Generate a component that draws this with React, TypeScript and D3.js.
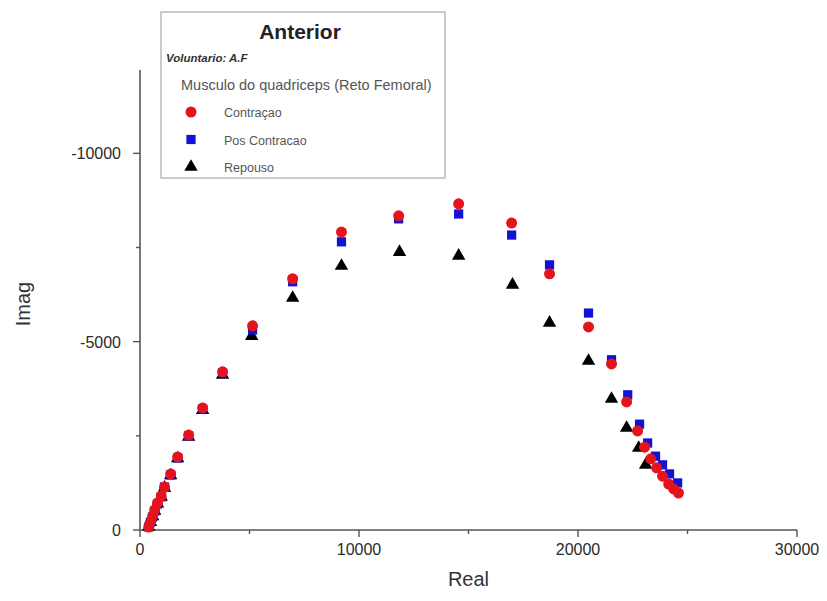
import React from "react";
import * as d3 from "d3";

// Nyquist plot: impedance real part vs. imaginary part (negative up)
const contracaoReal = [400, 480, 580, 670, 800, 970, 1120, 1400, 1720, 2220, 2860, 3770, 5140, 6970, 9200, 11810, 14550, 16970, 18700, 20480, 21530, 22220, 22720, 23040, 23320, 23590, 23860, 24140, 24370, 24590];
const contracaoImag = [-80, -210, -370, -530, -720, -900, -1140, -1490, -1940, -2520, -3240, -4200, -5420, -6670, -7910, -8340, -8660, -8150, -6800, -5390, -4410, -3400, -2630, -2200, -1890, -1650, -1430, -1220, -1090, -980];

const posReal = [400, 480, 580, 670, 800, 970, 1120, 1400, 1720, 2220, 2860, 3770, 5140, 6970, 9200, 11810, 14550, 16970, 18700, 20480, 21530, 22270, 22810, 23180, 23540, 23860, 24180, 24550];
const posImag = [-80, -210, -345, -505, -690, -880, -1140, -1460, -1910, -2500, -3210, -4170, -5310, -6590, -7650, -8260, -8390, -7830, -7040, -5760, -4520, -3590, -2810, -2310, -1960, -1730, -1490, -1250];

const repousoReal = [400, 480, 580, 670, 800, 970, 1120, 1400, 1720, 2220, 2860, 3770, 5100, 6970, 9200, 11850, 14550, 17010, 18700, 20480, 21530, 22220, 22770, 23090];
const repousoImag = [-80, -210, -360, -510, -700, -880, -1120, -1450, -1900, -2470, -3180, -4120, -5150, -6160, -7010, -7380, -7280, -6510, -5500, -4490, -3480, -2710, -2180, -1730];

const xMajorTicks = [0, 10000, 20000, 30000];
const xMinorTicks = [5000, 15000, 25000];
const yMajorTicks = [0, -5000, -10000];
const yMinorTicks = [-2500, -7500];

const legendTitle = "Anterior";
const legendSubject = "Voluntario: A.F";
const legendMuscle = "Musculo do quadriceps (Reto Femoral)";
const seriesNames = ["Contraçao", "Pos Contracao", "Repouso"];

const RED = "#e3141c";
const BLUE = "#1212d6";
const BLACK = "#000000";
const AXIS = "#555555";
const FONT = "Arial, 'Liberation Sans', sans-serif";

const x = d3.scaleLinear().domain([0, 30000]).range([140, 797]);
const y = d3.scaleLinear().domain([0, -12000]).range([530, 78]);

const tri = d3.symbol().type(d3.symbolTriangle).size(78)();
const sq = d3.symbol().type(d3.symbolSquare).size(85)();
const circ = d3.symbol().type(d3.symbolCircle).size(95)();

const zip = (xs: number[], ys: number[]) => xs.map((v, i) => [v, ys[i]] as [number, number]);

export default function App() {
  const repouso = zip(repousoReal, repousoImag);
  const pos = zip(posReal, posImag);
  const contr = zip(contracaoReal, contracaoImag);
  const x0 = x(0);
  const y0 = y(0);

  return (
    <svg
      width={827}
      height={601}
      style={{ position: "absolute", left: 0, top: 0, background: "#fff" }}
      fontFamily={FONT}
    >
      <rect width={827} height={601} fill="#fff" />

      {/* axes */}
      <line x1={x0} x2={x0} y1={y(-12000) - 8} y2={y0} stroke={AXIS} strokeWidth={1.6} />
      <line x1={x0} x2={x(30000)} y1={y0} y2={y0} stroke={AXIS} strokeWidth={1.6} />

      {xMajorTicks.map((t) => (
        <g key={"xt" + t}>
          <line x1={x(t)} x2={x(t)} y1={y0} y2={y0 + 7} stroke={AXIS} strokeWidth={1.4} />
          <text x={x(t)} y={y0 + 25} textAnchor="middle" fontSize={16} fill="#2a2a2a">
            {t}
          </text>
        </g>
      ))}
      {xMinorTicks.map((t) => (
        <line key={"xm" + t} x1={x(t)} x2={x(t)} y1={y0} y2={y0 + 4} stroke={AXIS} strokeWidth={1.4} />
      ))}
      {yMajorTicks.map((t) => (
        <g key={"yt" + t}>
          <line x1={x0 - 7} x2={x0} y1={y(t)} y2={y(t)} stroke={AXIS} strokeWidth={1.4} />
          <text x={x0 - 19} y={y(t) + 6} textAnchor="end" fontSize={16} fill="#2a2a2a">
            {t}
          </text>
        </g>
      ))}
      {yMinorTicks.map((t) => (
        <line key={"ym" + t} x1={x0 - 4} x2={x0} y1={y(t)} y2={y(t)} stroke={AXIS} strokeWidth={1.4} />
      ))}

      <text x={(x(0) + x(30000)) / 2} y={586} textAnchor="middle" fontSize={20} fill="#333">
        Real
      </text>
      <text
        transform={`translate(30, ${y(-6000)}) rotate(-90)`}
        textAnchor="middle"
        fontSize={20}
        fill="#333"
      >
        Imag
      </text>

      {/* data */}
      {repouso.map(([a, b], i) => (
        <path key={"r" + i} d={tri} transform={`translate(${x(a)},${y(b)})`} fill={BLACK} />
      ))}
      {pos.map(([a, b], i) => (
        <path key={"p" + i} d={sq} transform={`translate(${x(a)},${y(b)})`} fill={BLUE} />
      ))}
      {contr.map(([a, b], i) => (
        <path key={"c" + i} d={circ} transform={`translate(${x(a)},${y(b)})`} fill={RED} />
      ))}

      {/* legend */}
      <rect x={161} y={12} width={284} height={166} fill="#fff" stroke="#a8a8a8" strokeWidth={1.2} />
      <text x={300} y={39} textAnchor="middle" fontSize={21} fontWeight="bold" fill="#222">
        {legendTitle}
      </text>
      <text x={166} y={62} fontSize={11.5} fontWeight="bold" fontStyle="italic" fill="#333">
        {legendSubject}
      </text>
      <text x={181} y={90} fontSize={14.5} fill="#555">
        {legendMuscle}
      </text>
      {seriesNames.map((name, i) => {
        const cy = 112 + i * 27.5;
        const sym = i === 0 ? circ : i === 1 ? sq : tri;
        const col = i === 0 ? RED : i === 1 ? BLUE : BLACK;
        return (
          <g key={name}>
            <path d={sym} transform={`translate(191,${cy})`} fill={col} />
            <text x={224} y={cy + 5} fontSize={12.5} fill="#555">
              {name}
            </text>
          </g>
        );
      })}
    </svg>
  );
}
